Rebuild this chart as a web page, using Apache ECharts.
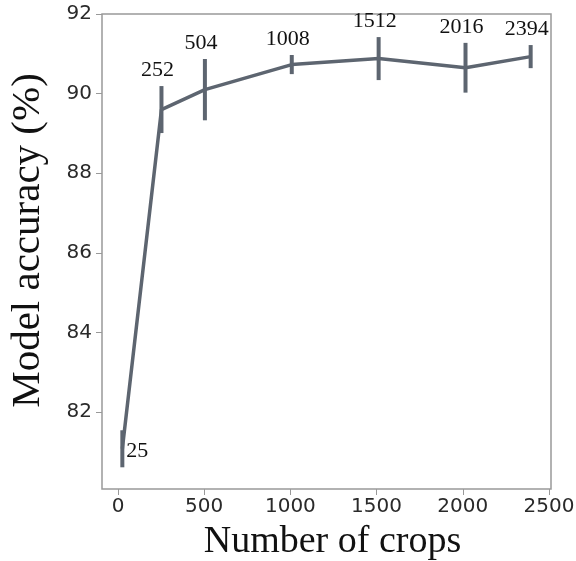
<!DOCTYPE html>
<html>
<head>
<meta charset="utf-8">
<script src="https://cdn.jsdelivr.net/npm/echarts@6/dist/echarts.min.js"></script>
<style>
html,body{margin:0;padding:0;background:#fff;}
#chart{width:576px;height:561px;}
</style>
</head>
<body>
<div id="chart"></div>
<script>
const crops = [25, 252, 504, 1008, 1512, 2016, 2394];
const accuracy = [81.08, 89.6, 90.1, 90.73, 90.88, 90.65, 90.93];
const errors = [0.465, 0.59, 0.77, 0.24, 0.54, 0.625, 0.29];
const pointLabels = ['25', '252', '504', '1008', '1512', '2016', '2394'];
const xTicks = [0, 500, 1000, 1500, 2000, 2500];
const yTicks = [82, 84, 86, 88, 90, 92];

const lineColor = '#5d6570';
const serif = '"Liberation Serif", "DejaVu Serif", serif';

const chart = echarts.init(document.getElementById('chart'));
const errData = crops.map((c, i) => [c, accuracy[i], errors[i], pointLabels[i]]);

chart.setOption({
  animation: false,
  grid: {left: 102, right: 25, top: 14, bottom: 72, show: true, borderColor: '#999', borderWidth: 1.5, backgroundColor: '#fff', containLabel: false, outerBoundsMode: 'none'},
  xAxis: {
    type: 'value', min: -93, max: 2512,
    name: 'Number of crops', nameLocation: 'middle', nameGap: 34,
    nameTextStyle: {fontFamily: serif, fontSize: 38, color: '#111', padding: [0, 0, 0, 12]},
    axisLine: {show: false, onZero: false},
    splitLine: {show: false},
    axisTick: {show: true, inside: false, length: 6, lineStyle: {color: '#999', width: 1}, customValues: xTicks},
    axisLabel: {fontFamily: '"DejaVu Sans", sans-serif', fontSize: 20, color: '#2a2a2a', margin: 8, customValues: xTicks, formatter: v => String(v)}
  },
  yAxis: {
    type: 'value', min: 80.07, max: 92.0,
    name: 'Model accuracy (%)', nameLocation: 'middle', nameGap: 53,
    nameTextStyle: {fontFamily: serif, fontSize: 41, color: '#111', padding: [0, 0, 0, 22]},
    axisLine: {show: false, onZero: false},
    splitLine: {show: false},
    axisTick: {show: true, inside: false, length: 6, lineStyle: {color: '#999', width: 1}, customValues: yTicks},
    axisLabel: {fontFamily: '"DejaVu Sans", sans-serif', fontSize: 20, color: '#2a2a2a', margin: 10, customValues: yTicks, formatter: v => String(v)}
  },
  series: [
    {
      type: 'line',
      data: crops.map((c, i) => [c, accuracy[i]]),
      showSymbol: false,
      lineStyle: {color: lineColor, width: 3.5},
      z: 3
    },
    {
      type: 'custom',
      data: errData,
      z: 4,
      renderItem: function (params, api) {
        const x = api.value(0), y = api.value(1), e = api.value(2);
        const top = api.coord([x, y + e]);
        const bot = api.coord([x, y - e]);
        const idx = params.dataIndex;
        const children = [{
          type: 'line',
          shape: {x1: top[0], y1: top[1], x2: bot[0], y2: bot[1]},
          style: {stroke: lineColor, lineWidth: 4}
        }];
        const lbl = pointLabels[idx];
        if (idx === 0) {
          const mid = api.coord([x, y]);
          children.push({type: 'text', style: {text: lbl, x: mid[0] + 4, y: mid[1] + 2, align: 'left', verticalAlign: 'middle', font: '22px ' + serif, fill: '#111'}});
        } else {
          children.push({type: 'text', style: {text: lbl, x: top[0] - 4, y: top[1] - 5, align: 'center', verticalAlign: 'bottom', font: '22px ' + serif, fill: '#111'}});
        }
        return {type: 'group', children: children};
      }
    }
  ]
});
</script>
</body>
</html>
